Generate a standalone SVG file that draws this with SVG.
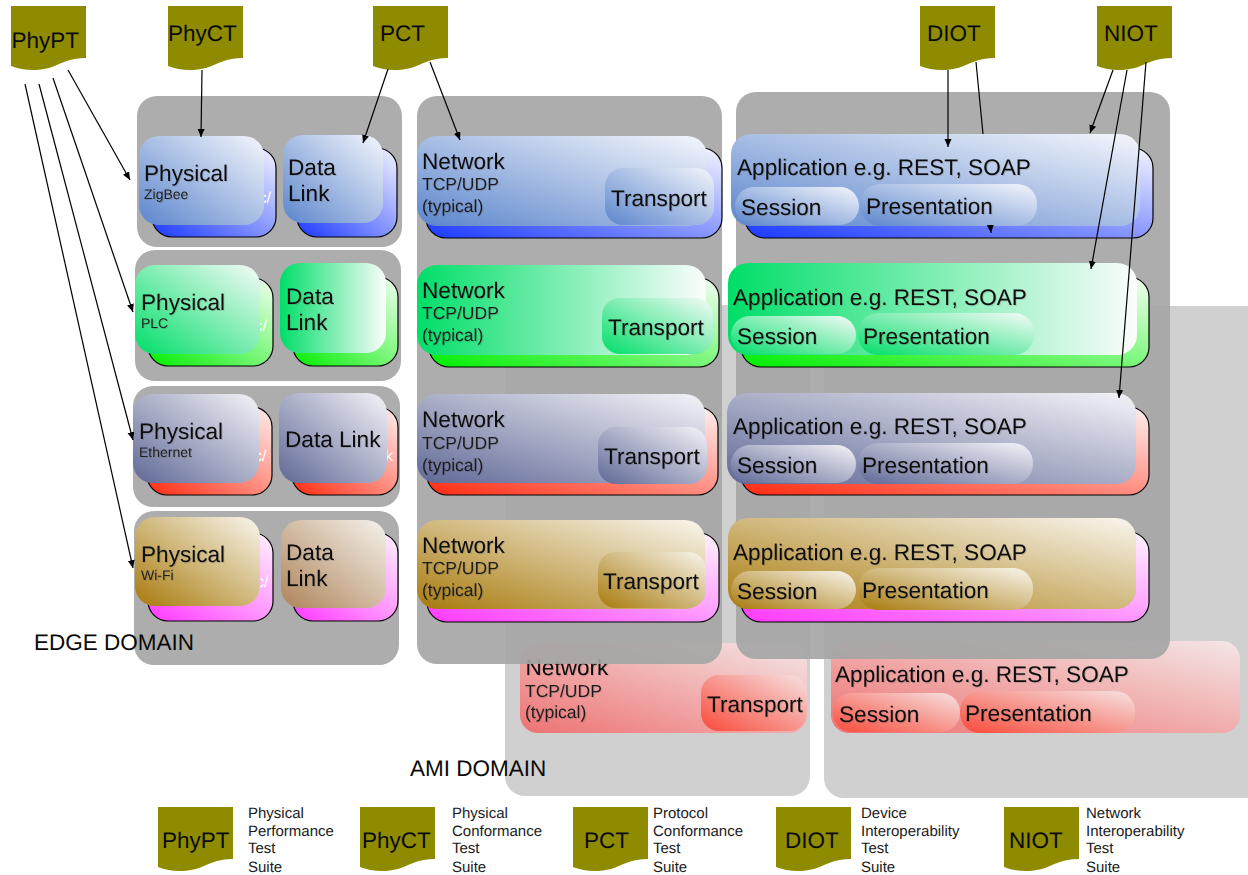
<svg xmlns="http://www.w3.org/2000/svg" width="1248" height="875" viewBox="0 0 1248 875">
<style>
text{font-family:"Liberation Sans",Arial,sans-serif;fill:#000;text-rendering:geometricPrecision}
.t{font-size:22.6px;fill:#0a0a0a;filter:url(#ts)}
.m{font-size:17.5px;fill:#1c1c1c;filter:url(#ts)}
.s{font-size:14px;fill:#222;filter:url(#ts)}
.l{font-size:15px;fill:#1a1a1a}
.d{font-size:22.5px;fill:#0a0a0a}
.g{font-size:16px;fill:#fff}
.dom{fill:#a5a5a5;fill-opacity:.915}
.ami{fill:#d0d0d0}
.back{stroke:#000;stroke-width:1.2}
.cn line{stroke:#000;stroke-width:1.2;fill:none}
.a{marker-end:url(#ah)}
.doc{fill:#8f8b00}
.bb{fill:url(#bb)}.bg{fill:url(#bg)}.br{fill:url(#br)}.bm{fill:url(#bm)}
.fb{fill:url(#fb)}.fg{fill:url(#fg)}.fh{fill:url(#fh)}.fp{fill:url(#fp)}.ft{fill:url(#ft)}.fd{fill:url(#fd)}.fr{fill:url(#fr)}.fs{fill:url(#fs)}
</style>
<defs>
<filter id="ts" x="-10%" y="-20%" width="125%" height="150%"><feDropShadow dx="1" dy="1" stdDeviation=".7" flood-color="#444" flood-opacity=".2"/></filter>
<marker id="ah" markerUnits="userSpaceOnUse" markerWidth="9" markerHeight="8" refX="8" refY="3.5" orient="auto"><path d="M0,0 L8,3.5 L0,7 z" fill="#000"/></marker>
<path id="doc" d="M0,0 H75 V52 C58,52 50,58 38,62 C26,65 12,65 0,60 Z"/>
<linearGradient id="bb" x1="0" y1="1" x2="1" y2="0"><stop offset="0" stop-color="#1a38ff"/><stop offset="1" stop-color="#f4f4ff"/></linearGradient>
<linearGradient id="bg" x1="0" y1="1" x2="1" y2="0"><stop offset="0" stop-color="#00ee00"/><stop offset="1" stop-color="#f2fff2"/></linearGradient>
<linearGradient id="br" x1="0" y1="1" x2="1" y2="0"><stop offset="0" stop-color="#ff2a10"/><stop offset="1" stop-color="#fff0f0"/></linearGradient>
<linearGradient id="bm" x1="0" y1="1" x2="1" y2="0"><stop offset="0" stop-color="#ff38ff"/><stop offset="1" stop-color="#fff4ff"/></linearGradient>
<linearGradient id="fb" x1="0" y1="1" x2="1" y2="0"><stop offset="0" stop-color="#5b85cc"/><stop offset="1" stop-color="#f4f6fc"/></linearGradient>
<linearGradient id="fg" x1="0" y1="1" x2="1" y2="0"><stop offset="0" stop-color="#00de68"/><stop offset="1" stop-color="#f6fbf8"/></linearGradient>
<linearGradient id="fh" x1="0" y1="0" x2="1" y2="0"><stop offset="0" stop-color="#00de68"/><stop offset="1" stop-color="#fbfdfc"/></linearGradient>
<linearGradient id="fp" x1="0" y1="1" x2="1" y2="0"><stop offset="0" stop-color="#5f6896"/><stop offset="1" stop-color="#f4f4f8"/></linearGradient>
<linearGradient id="ft" x1="0" y1="1" x2="1" y2="0"><stop offset="0" stop-color="#a87a0c"/><stop offset="1" stop-color="#f9f6ee"/></linearGradient>
<linearGradient id="fd" x1="0" y1="1" x2="1" y2="0"><stop offset="0" stop-color="#ae845a"/><stop offset="1" stop-color="#f5f2ec"/></linearGradient>
<linearGradient id="fr" x1="0" y1="1" x2="1" y2="0"><stop offset="0" stop-color="#ee7272"/><stop offset="1" stop-color="#f4e6e6"/></linearGradient>
<linearGradient id="fs" x1="0" y1="1" x2="1" y2="0"><stop offset="0" stop-color="#f84a3a"/><stop offset="1" stop-color="#f6e2e2"/></linearGradient>
</defs>
<rect width="1248" height="875" fill="#fff"/>

<g id="ami-domain">
<rect class="ami" x="505" y="305" width="305" height="491" rx="20"/>
<rect class="ami" x="824" y="306" width="444" height="492" rx="20"/>
<text class="d" x="410" y="776">AMI DOMAIN</text>
</g>
<g id="ami-network">
<rect class="fr" x="520" y="643" width="287" height="90" rx="18"/>
<text class="t" x="525.5" y="675">Network</text>
<text class="m" x="525" y="697">TCP/UDP</text>
<text class="m" x="525" y="718">(typical)</text>
<rect class="fs" x="701" y="675" width="106" height="56" rx="18"/>
<text class="t" x="707" y="712">Transport</text>
</g>
<g id="ami-application">
<rect class="fr" x="831" y="641" width="409" height="92" rx="18"/>
<text class="t" x="835" y="682">Application e.g. REST, SOAP</text>
<rect class="fs" x="833" y="693" width="127" height="39" rx="19"/>
<text class="t" x="839" y="722">Session</text>
<rect class="fs" x="960" y="691" width="175" height="42" rx="20"/>
<text class="t" x="965" y="721">Presentation</text>
</g>

<g id="edge-row-1-panel"><rect class="dom" x="137" y="96" width="265" height="151" rx="20"/></g>
<g id="edge-row-2-panel"><rect class="dom" x="135" y="250" width="266" height="131" rx="20"/></g>
<g id="edge-row-3-panel"><rect class="dom" x="133" y="386" width="267" height="121" rx="20"/></g>
<g id="edge-row-4-panel"><rect class="dom" x="134" y="511" width="265" height="154" rx="20"/></g>
<g id="network-panel"><rect class="dom" x="417" y="96" width="305" height="568" rx="20"/></g>
<g id="application-panel"><rect class="dom" x="736" y="92" width="434" height="567" rx="20"/></g>
<text class="d" x="34" y="650">EDGE DOMAIN</text>

<g id="physical-zigbee">
<rect class="back bb" x="152" y="148" width="124" height="89" rx="20"/>
<text class="g" x="258.5" y="203">c/</text>
<rect class="fb" x="139" y="136" width="125" height="89" rx="20"/>
<text class="t" x="144" y="181">Physical</text><text class="s" x="144" y="199">ZigBee</text>
</g>
<g id="datalink-1">
<rect class="back bb" x="297" y="148" width="100" height="89" rx="20"/>
<rect class="fb" x="283" y="135" width="100" height="88" rx="20"/>
<text class="t" x="288" y="175">Data</text><text class="t" x="288" y="201">Link</text>
</g>
<g id="physical-plc">
<rect class="back bg" x="148" y="278" width="125" height="88" rx="20"/>
<text class="g" x="254.5" y="331">c/</text>
<rect class="fg" x="135" y="265" width="125" height="89" rx="20"/>
<text class="t" x="141" y="310">Physical</text><text class="s" x="141" y="328">PLC</text>
</g>
<g id="datalink-2">
<rect class="back bg" x="293" y="277" width="105" height="89" rx="20"/>
<rect class="fh" x="280" y="263" width="106" height="90" rx="20"/>
<text class="t" x="286" y="304">Data</text><text class="t" x="286" y="330">Link</text>
</g>
<g id="physical-ethernet">
<rect class="back br" x="147" y="407" width="125" height="88" rx="20"/>
<text class="g" x="254" y="461">c/</text>
<rect class="fp" x="133" y="394" width="126" height="89" rx="20"/>
<text class="t" x="139" y="439">Physical</text><text class="s" x="139" y="457">Ethernet</text>
</g>
<g id="datalink-3">
<rect class="back br" x="292" y="407" width="106" height="88" rx="20"/>
<text class="g" x="385" y="461">k</text>
<rect class="fp" x="279" y="393" width="108" height="90" rx="20"/>
<text class="t" x="285" y="447">Data Link</text>
</g>
<g id="physical-wifi">
<rect class="back bm" x="148" y="533" width="125" height="88" rx="20"/>
<text class="g" x="256" y="587">c/</text>
<rect class="ft" x="135" y="517" width="125" height="89" rx="20"/>
<text class="t" x="141" y="562">Physical</text><text class="s" x="141" y="580">Wi-Fi</text>
</g>
<g id="datalink-4">
<rect class="back bm" x="293" y="533" width="105" height="88" rx="20"/>
<rect class="fd" x="281" y="520" width="105" height="88" rx="20"/>
<text class="t" x="286" y="560">Data</text><text class="t" x="286" y="586">Link</text>
</g>

<g id="network-1">
<rect class="back bb" x="426" y="148" width="296" height="90" rx="20"/>
<rect class="fb" x="417" y="136" width="290" height="90" rx="20"/>
<text class="t" x="422" y="169">Network</text><text class="m" x="422" y="190">TCP/UDP</text><text class="m" x="422" y="212">(typical)</text>
<rect class="fb" x="605" y="168" width="109" height="57" rx="18"/>
<text class="t" x="611" y="206">Transport</text>
</g>
<g id="network-2">
<rect class="back bg" x="429" y="278" width="290" height="89" rx="20"/>
<rect class="fh" x="417" y="265" width="289" height="90" rx="20"/>
<text class="t" x="422" y="298">Network</text><text class="m" x="422" y="319">TCP/UDP</text><text class="m" x="422" y="341">(typical)</text>
<rect class="fg" x="602" y="298" width="111" height="56" rx="18"/>
<text class="t" x="608" y="335">Transport</text>
</g>
<g id="network-3">
<rect class="back br" x="427" y="407" width="291" height="88" rx="20"/>
<rect class="fp" x="417" y="394" width="288" height="89" rx="20"/>
<text class="t" x="422" y="427">Network</text><text class="m" x="422" y="449">TCP/UDP</text><text class="m" x="422" y="471">(typical)</text>
<rect class="fp" x="598" y="427" width="109" height="57" rx="18"/>
<text class="t" x="604" y="464">Transport</text>
</g>
<g id="network-4">
<rect class="back bm" x="427" y="533" width="292" height="89" rx="20"/>
<rect class="ft" x="417" y="520" width="288" height="89" rx="20"/>
<text class="t" x="422" y="553">Network</text><text class="m" x="422" y="574">TCP/UDP</text><text class="m" x="422" y="596">(typical)</text>
<rect class="ft" x="598" y="552" width="108" height="56" rx="18"/>
<text class="t" x="603" y="589">Transport</text>
</g>

<g id="application-1">
<rect class="back bb" x="745" y="148" width="408" height="90" rx="20"/>
<rect class="fb" x="731" y="134" width="409" height="92" rx="20"/>
<text class="t" x="737" y="175">Application e.g. REST, SOAP</text>
<rect class="fb" x="735" y="187" width="124" height="38" rx="19"/>
<text class="t" x="741" y="215">Session</text>
<rect class="fb" x="860" y="184" width="177" height="42" rx="20"/>
<text class="t" x="866" y="214">Presentation</text>
</g>
<g id="application-2">
<rect class="back bg" x="741" y="277" width="408" height="90" rx="20"/>
<rect class="fh" x="728" y="263" width="409" height="92" rx="20"/>
<text class="t" x="733" y="305">Application e.g. REST, SOAP</text>
<rect class="fg" x="731" y="316" width="125" height="38" rx="19"/>
<text class="t" x="737" y="344">Session</text>
<rect class="fg" x="858" y="313" width="176" height="42" rx="20"/>
<text class="t" x="863" y="344">Presentation</text>
</g>
<g id="application-3">
<rect class="back br" x="741" y="407" width="408" height="88" rx="20"/>
<rect class="fp" x="727" y="393" width="409" height="91" rx="20"/>
<text class="t" x="733" y="434">Application e.g. REST, SOAP</text>
<rect class="fp" x="731" y="445" width="125" height="38" rx="19"/>
<text class="t" x="737" y="473">Session</text>
<rect class="fp" x="858" y="443" width="175" height="41" rx="20"/>
<text class="t" x="862" y="473">Presentation</text>
</g>
<g id="application-4">
<rect class="back bm" x="741" y="532" width="408" height="90" rx="20"/>
<rect class="ft" x="728" y="518" width="408" height="91" rx="20"/>
<text class="t" x="733" y="560">Application e.g. REST, SOAP</text>
<rect class="ft" x="731" y="571" width="125" height="38" rx="19"/>
<text class="t" x="737" y="599">Session</text>
<rect class="ft" x="858" y="568" width="175" height="42" rx="20"/>
<text class="t" x="862" y="598">Presentation</text>
</g>

<g id="tag-phypt"><use href="#doc" class="doc" x="11" y="6"/><text class="d" x="11.5" y="48">PhyPT</text></g>
<g id="tag-phyct"><use href="#doc" class="doc" x="168" y="6"/><text class="d" x="168" y="41">PhyCT</text></g>
<g id="tag-pct"><use href="#doc" class="doc" x="373" y="6"/><text class="d" x="380" y="41">PCT</text></g>
<g id="tag-diot"><use href="#doc" class="doc" x="920" y="6"/><text class="d" x="927" y="41">DIOT</text></g>
<g id="tag-niot"><use href="#doc" class="doc" x="1097" y="6"/><text class="d" x="1104" y="41">NIOT</text></g>

<g id="connectors" class="cn">
<line class="a" x1="68" y1="70" x2="130" y2="180"/>
<line class="a" x1="53" y1="78" x2="133" y2="312"/>
<line class="a" x1="39" y1="84" x2="133" y2="440"/>
<line class="a" x1="25" y1="84" x2="133" y2="568"/>
<line class="a" x1="202" y1="70" x2="201" y2="137"/>
<line class="a" x1="388" y1="69" x2="363" y2="143"/>
<line class="a" x1="430" y1="62" x2="460" y2="140"/>
<line class="a" x1="948" y1="70" x2="948" y2="147"/>
<line x1="976" y1="62" x2="983" y2="134"/>
<line class="a" x1="990.3" y1="225" x2="991" y2="233"/>
<line class="a" x1="1113" y1="70" x2="1090" y2="133"/>
<line class="a" x1="1127" y1="70" x2="1091" y2="269"/>
<line class="a" x1="1146" y1="62" x2="1119" y2="398"/>
</g>

<g id="legend-phypt"><use href="#doc" class="doc" x="158" y="807"/><text class="d" x="162" y="848">PhyPT</text>
<text class="l" x="248" y="818">Physical</text><text class="l" x="248" y="836">Performance</text><text class="l" x="248" y="853">Test</text><text class="l" x="248" y="872">Suite</text></g>
<g id="legend-phyct"><use href="#doc" class="doc" x="360" y="807"/><text class="d" x="362" y="848">PhyCT</text>
<text class="l" x="452" y="818">Physical</text><text class="l" x="452" y="836">Conformance</text><text class="l" x="452" y="853">Test</text><text class="l" x="452" y="872">Suite</text></g>
<g id="legend-pct"><use href="#doc" class="doc" x="573" y="807"/><text class="d" x="584" y="848">PCT</text>
<text class="l" x="653" y="818">Protocol</text><text class="l" x="653" y="836">Conformance</text><text class="l" x="653" y="853">Test</text><text class="l" x="653" y="872">Suite</text></g>
<g id="legend-diot"><use href="#doc" class="doc" x="776" y="807"/><text class="d" x="785" y="848">DIOT</text>
<text class="l" x="861" y="818">Device</text><text class="l" x="861" y="836">Interoperability</text><text class="l" x="861" y="853">Test</text><text class="l" x="861" y="872">Suite</text></g>
<g id="legend-niot"><use href="#doc" class="doc" x="1004" y="807"/><text class="d" x="1009" y="848">NIOT</text>
<text class="l" x="1086" y="818">Network</text><text class="l" x="1086" y="836">Interoperability</text><text class="l" x="1086" y="853">Test</text><text class="l" x="1086" y="872">Suite</text></g>
</svg>
